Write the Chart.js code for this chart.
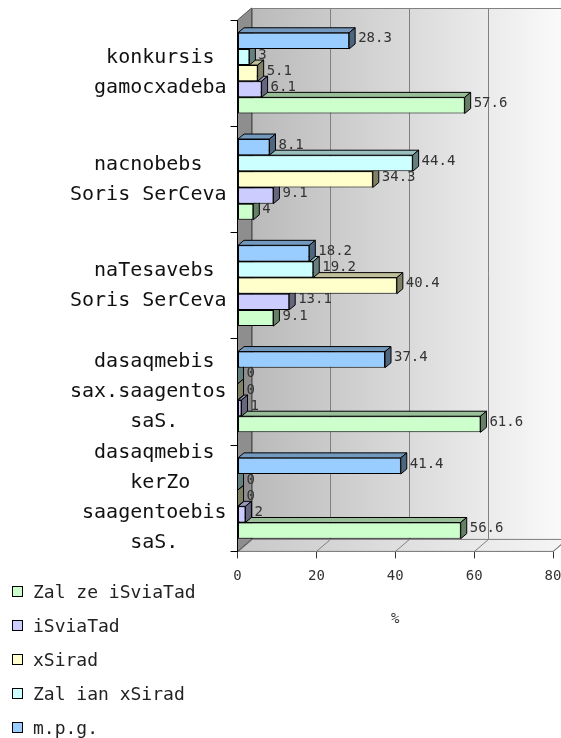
<!DOCTYPE html>
<html>
<head>
<meta charset="utf-8">
<script src="https://cdn.jsdelivr.net/npm/chart.js@4.4.0/dist/chart.umd.min.js"></script>
<style>
    html, body { margin: 0; padding: 0; background: #fff; overflow: hidden; }
    .chart-wrap { position: relative; width: 561px; height: 738px; }
    #legend {
        position: absolute;
        left: 12px;
        top: 574px;
        font-family: "DejaVu Sans Mono", monospace;
        font-size: 18px;
        color: #222;
    }
    .legend-item { display: flex; align-items: center; height: 34px; }
    .legend-box { width: 9px; height: 9px; border: 1px solid #000; margin-right: 10px; }
</style>
</head>
<body>
<div class="chart-wrap">
    <canvas id="surveyChart"></canvas>
    <div id="legend"></div>
</div>
<script>
const categories = [
    ["konkursis", "gamocxadeba"],
    ["nacnobebs", "Soris SerCeva"],
    ["naTesavebs", "Soris SerCeva"],
    ["dasaqmebis", "sax.saagentos", "saS."],
    ["dasaqmebis", "kerZo", "saagentoebis", "saS."]
];

const seriesNames = ["Zal ze iSviaTad", "iSviaTad", "xSirad", "Zal ian xSirad", "m.p.g."];

const veryRarely = [57.6, 4, 9.1, 61.6, 56.6];
const rarely = [6.1, 9.1, 13.1, 1, 2];
const often = [5.1, 34.3, 40.4, 0, 0];
const veryOften = [3, 44.4, 19.2, 0, 0];
const noAnswer = [28.3, 8.1, 18.2, 37.4, 41.4];

const xTicks = [0, 20, 40, 60, 80];

const seriesValues = [veryRarely, rarely, often, veryOften, noAnswer];
const seriesColors = ["#ccffcc", "#ccccff", "#ffffcc", "#ccffff", "#99ccff"];

const fontFamily = "'DejaVu Sans Mono', monospace";
const wallDepth = { x: 14, y: 12 };
const barDepth = { x: 6, y: 5 };

function shade(hex, factor) {
    const n = parseInt(hex.slice(1), 16);
    const r = Math.round(((n >> 16) & 255) * factor);
    const g = Math.round(((n >> 8) & 255) * factor);
    const b = Math.round((n & 255) * factor);
    return `rgb(${r}, ${g}, ${b})`;
}

function polygon(ctx, points, fill, stroke) {
    ctx.beginPath();
    ctx.moveTo(points[0][0], points[0][1]);
    points.slice(1).forEach((p) => ctx.lineTo(p[0], p[1]));
    ctx.closePath();
    if (fill) {
        ctx.fillStyle = fill;
        ctx.fill();
    }
    if (stroke) {
        ctx.strokeStyle = stroke;
        ctx.stroke();
    }
}

// walls, floor and gridlines of the 3d box
const wallsPlugin = {
    id: "walls3d",
    beforeDraw(chart) {
        const { ctx, chartArea: a } = chart;
        const xScale = chart.scales.x;
        const dx = wallDepth.x;
        const dy = wallDepth.y;
        ctx.save();
        ctx.lineWidth = 1;

        const back = ctx.createLinearGradient(a.left + dx, 0, a.right + dx, 0);
        back.addColorStop(0, "#bababa");
        back.addColorStop(1, "#fbfbfb");
        ctx.fillStyle = back;
        ctx.fillRect(a.left + dx, a.top - dy, a.right - a.left, a.bottom - a.top);
        ctx.strokeStyle = "#808080";
        ctx.strokeRect(a.left + dx + 0.5, a.top - dy + 0.5, a.right - a.left, a.bottom - a.top);

        const floor = ctx.createLinearGradient(a.left, 0, a.right + dx, 0);
        floor.addColorStop(0, "#c8c8c8");
        floor.addColorStop(1, "#f6f6f6");
        polygon(ctx, [[a.left, a.bottom], [a.right, a.bottom], [a.right + dx, a.bottom - dy], [a.left + dx, a.bottom - dy]], floor, "#808080");

        xScale.ticks.forEach((tick) => {
            const px = Math.round(xScale.getPixelForValue(tick.value)) + 0.5;
            ctx.strokeStyle = "#808080";
            ctx.beginPath();
            ctx.moveTo(px + dx, a.top - dy);
            ctx.lineTo(px + dx, a.bottom - dy);
            ctx.moveTo(px, a.bottom);
            ctx.lineTo(px + dx, a.bottom - dy);
            ctx.stroke();
        });

        polygon(ctx, [[a.left, a.top], [a.left + dx, a.top - dy], [a.left + dx, a.bottom - dy], [a.left, a.bottom]], "#8e8e8e", "#555");
        ctx.restore();
    }
};

// side and top faces of each bar, drawn before the front face
const barSidesPlugin = {
    id: "barSides",
    beforeDatasetDraw(chart, args) {
        const { ctx } = chart;
        const color = chart.data.datasets[args.index].backgroundColor;
        ctx.save();
        ctx.lineWidth = 1;
        args.meta.data.forEach((bar) => {
            const top = bar.y - bar.height / 2;
            const bottom = bar.y + bar.height / 2;
            polygon(ctx, [[bar.base, top], [bar.x, top], [bar.x + barDepth.x, top - barDepth.y], [bar.base + barDepth.x, top - barDepth.y]], shade(color, 0.75), "#000");
            polygon(ctx, [[bar.x, top], [bar.x + barDepth.x, top - barDepth.y], [bar.x + barDepth.x, bottom - barDepth.y], [bar.x, bottom]], shade(color, 0.5), "#000");
        });
        ctx.restore();
    },
    afterDatasetsDraw(chart) {
        const { ctx } = chart;
        ctx.save();
        ctx.font = `14px ${fontFamily}`;
        ctx.fillStyle = "#333";
        ctx.textAlign = "left";
        ctx.textBaseline = "middle";
        chart.data.datasets.forEach((dataset, i) => {
            chart.getDatasetMeta(i).data.forEach((bar, j) => {
                ctx.fillText(String(dataset.data[j]), bar.x + barDepth.x + 3, bar.y - 2);
            });
        });
        ctx.restore();
    }
};

function buildDatasets() {
    // top bar in each group is the last series, so go in reverse
    return seriesNames.map((name, i) => ({
        label: name,
        data: seriesValues[i],
        backgroundColor: seriesColors[i],
        borderColor: "#000",
        borderWidth: 1,
        borderSkipped: false,
        categoryPercentage: 0.76,
        barPercentage: 1
    })).reverse();
}

function centerLines(lines) {
    const width = Math.max(...lines.map((line) => line.length));
    return lines.map((line) => line + " ".repeat(Math.floor((width - line.length) / 2)));
}

function renderChart() {
    const canvas = document.getElementById("surveyChart");
    return new Chart(canvas, {
        type: "bar",
        data: {
            labels: categories,
            datasets: buildDatasets()
        },
        options: {
            indexAxis: "y",
            responsive: true,
            maintainAspectRatio: false,
            animation: false,
            layout: {
                padding: { top: 20, left: 66, right: 8, bottom: 110 }
            },
            plugins: {
                legend: { display: false },
                tooltip: { enabled: false }
            },
            scales: {
                x: {
                    min: xTicks[0],
                    max: xTicks[xTicks.length - 1],
                    afterBuildTicks(scale) {
                        scale.ticks = xTicks.map((value) => ({ value }));
                    },
                    afterFit(scale) {
                        scale.paddingLeft = 0;
                        scale.paddingRight = 0;
                    },
                    grid: {
                        drawOnChartArea: false,
                        tickLength: 7,
                        color: "#333"
                    },
                    border: { color: "#808080" },
                    ticks: {
                        color: "#333",
                        padding: 10,
                        font: { family: fontFamily, size: 14 }
                    },
                    title: {
                        display: true,
                        text: "%",
                        color: "#333",
                        padding: { top: 16, bottom: 0 },
                        font: { family: fontFamily, size: 14 }
                    }
                },
                y: {
                    afterFit(scale) {
                        scale.paddingTop = 0;
                        scale.paddingBottom = 0;
                    },
                    grid: {
                        drawOnChartArea: false,
                        offset: true,
                        tickLength: 7,
                        color: "#000"
                    },
                    border: { color: "#000" },
                    ticks: {
                        autoSkip: false,
                        color: "#111",
                        padding: 4,
                        font: { family: fontFamily, size: 20, lineHeight: 1.5 },
                        callback(value) {
                            return centerLines([].concat(this.getLabelForValue(value)));
                        }
                    }
                }
            }
        },
        plugins: [wallsPlugin, barSidesPlugin]
    });
}

function renderLegend() {
    const box = document.getElementById("legend");
    box.innerHTML = seriesNames.map((name, i) => `
        <div class="legend-item">
            <span class="legend-box" style="background:${seriesColors[i]}"></span>
            <span>${name}</span>
        </div>
    `).join("");
}

renderChart();
renderLegend();
</script>
</body>
</html>
